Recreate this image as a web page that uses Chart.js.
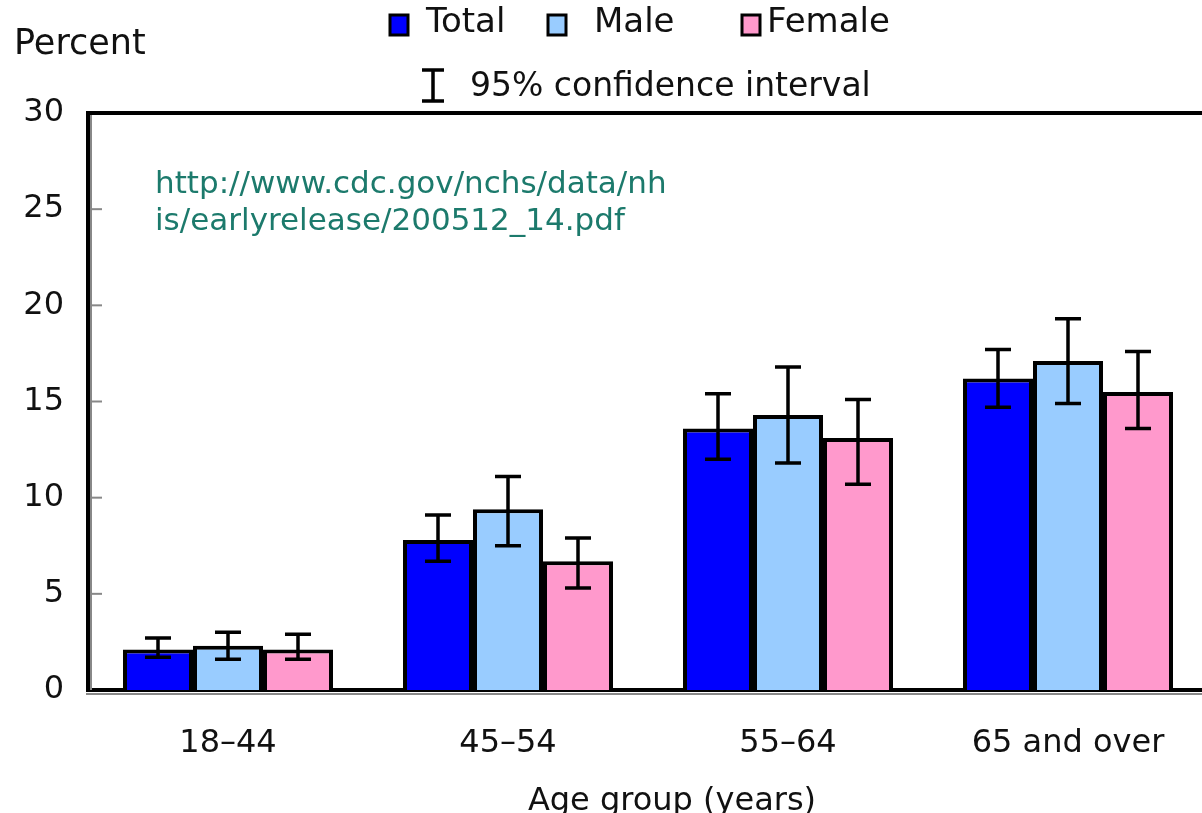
<!DOCTYPE html>
<html>
<head>
<meta charset="utf-8">
<script src="https://cdn.jsdelivr.net/npm/chart.js@4.4.0/dist/chart.umd.min.js"></script>
<style>
  html, body { margin: 0; padding: 0; overflow: hidden; background: #fff; }
  #wrap { width: 1216px; height: 813px; }
</style>
</head>
<body>
<div id="wrap"><canvas id="chart" width="1216" height="813"></canvas></div>
<script>
const ageGroups = ['18\u201344', '45\u201354', '55\u201364', '65 and over'];

const totalVals = [2.1, 7.8, 13.6, 16.2];
const maleVals = [2.3, 9.4, 14.3, 17.1];
const femaleVals = [2.1, 6.7, 13.1, 15.5];

// 95% confidence interval bounds
const totalLow = [1.7, 6.7, 12.0, 14.7];
const totalHigh = [2.7, 9.1, 15.4, 17.7];
const maleLow = [1.6, 7.5, 11.8, 14.9];
const maleHigh = [3.0, 11.1, 16.8, 19.3];
const femaleLow = [1.6, 5.3, 10.7, 13.6];
const femaleHigh = [2.9, 7.9, 15.1, 17.6];

const yTicks = [0, 5, 10, 15, 20, 25, 30];

const FONT = 'DejaVu Sans';

// error bars + frame + extra text
const extras = {
  id: 'extras',
  afterDatasetsDraw(chart) {
    const ctx = chart.ctx;
    const y = chart.scales.y;
    const area = chart.chartArea;
    ctx.save();
    chart.data.datasets.forEach((ds, i) => {
      chart.getDatasetMeta(i).data.forEach((bar, j) => {
        const hi = y.getPixelForValue(ds.ciHigh[j]);
        const lo = y.getPixelForValue(ds.ciLow[j]);
        ctx.strokeStyle = '#000';
        ctx.lineWidth = 3.5;
        ctx.beginPath();
        ctx.moveTo(bar.x, hi);
        ctx.lineTo(bar.x, lo);
        ctx.moveTo(bar.x - 13, hi);
        ctx.lineTo(bar.x + 13, hi);
        ctx.moveTo(bar.x - 13, lo);
        ctx.lineTo(bar.x + 13, lo);
        ctx.stroke();
      });
    });

    // top frame line
    ctx.strokeStyle = '#000';
    ctx.lineWidth = 4;
    ctx.beginPath();
    ctx.moveTo(area.left - 2, area.top);
    ctx.lineTo(area.right + 10, area.top);
    ctx.stroke();

    // grey shadow lines next to the axes
    ctx.strokeStyle = '#888';
    ctx.lineWidth = 2;
    ctx.beginPath();
    ctx.moveTo(area.left + 3, area.top + 2);
    ctx.lineTo(area.left + 3, area.bottom);
    ctx.moveTo(area.left - 2, area.bottom + 4);
    ctx.lineTo(area.right + 10, area.bottom + 4);
    ctx.stroke();

    // inward tick marks
    ctx.lineWidth = 2;
    yTicks.slice(1, -1).forEach(v => {
      const py = y.getPixelForValue(v);
      ctx.beginPath();
      ctx.moveTo(area.left + 2, py);
      ctx.lineTo(area.left + 14, py);
      ctx.stroke();
    });
    ctx.restore();
  },
  afterDraw(chart) {
    const ctx = chart.ctx;
    ctx.save();
    ctx.textBaseline = 'middle';
    ctx.textAlign = 'left';
    ctx.fillStyle = '#111';

    // legend
    ctx.font = '34px "' + FONT + '"';
    const legendX = [390, 548, 742];
    chart.data.datasets.forEach((ds, i) => {
      const x = legendX[i];
      ctx.fillStyle = ds.backgroundColor;
      ctx.fillRect(x, 15, 18, 20);
      ctx.strokeStyle = '#000';
      ctx.lineWidth = 3;
      ctx.strokeRect(x, 15, 18, 20);
      ctx.fillStyle = '#111';
      ctx.fillText(ds.label, x + (i === 0 ? 36 : i === 1 ? 46 : 25), 23);
    });

    // confidence interval key
    ctx.strokeStyle = '#000';
    ctx.lineWidth = 3.5;
    ctx.beginPath();
    ctx.moveTo(433, 70); ctx.lineTo(433, 101);
    ctx.moveTo(422, 70); ctx.lineTo(444, 70);
    ctx.moveTo(422, 101); ctx.lineTo(444, 101);
    ctx.stroke();
    ctx.font = '33px "' + FONT + '"';
    ctx.fillText('95% confidence interval', 470, 87);

    // y axis caption
    ctx.font = '35px "' + FONT + '"';
    ctx.fillText('Percent', 14, 45);

    // source url
    ctx.font = '31px "' + FONT + '"';
    ctx.fillStyle = '#1c7a6c';
    ctx.fillText('http://www.cdc.gov/nchs/data/nh', 155, 185);
    ctx.fillText('is/earlyrelease/200512_14.pdf', 155, 222);

    // x axis caption
    ctx.font = '32px "' + FONT + '"';
    ctx.fillStyle = '#111';
    ctx.textAlign = 'center';
    ctx.fillText('Age group (years)', 672, 802);
    ctx.restore();
  }
};

new Chart(document.getElementById('chart'), {
  type: 'bar',
  data: {
    labels: ageGroups,
    datasets: [
      { label: 'Total', data: totalVals, ciLow: totalLow, ciHigh: totalHigh, backgroundColor: '#0000ff' },
      { label: 'Male', data: maleVals, ciLow: maleLow, ciHigh: maleHigh, backgroundColor: '#99ccff' },
      { label: 'Female', data: femaleVals, ciLow: femaleLow, ciHigh: femaleHigh, backgroundColor: '#ff99cc' }
    ].map(ds => Object.assign(ds, {
      borderColor: '#000',
      borderWidth: 4,
      categoryPercentage: 0.75,
      barPercentage: 1.0
    }))
  },
  options: {
    responsive: false,
    animation: false,
    layout: { padding: { top: 113, right: 8, left: 0, bottom: 0 } },
    plugins: {
      legend: { display: false },
      title: { display: false },
      tooltip: { enabled: false }
    },
    scales: {
      x: {
        grid: { display: false, drawTicks: false },
        border: { color: '#000', width: 4 },
        ticks: { color: '#111', padding: 34, font: { family: FONT, size: 32 } },
        afterFit: s => { s.height = 123; }
      },
      y: {
        min: 0,
        max: 30,
        afterBuildTicks: s => { s.ticks = yTicks.map(v => ({ value: v })); },
        grid: { display: false, drawTicks: false },
        border: { color: '#000', width: 4 },
        ticks: { color: '#111', padding: 24, font: { family: FONT, size: 32 } },
        afterFit: s => { s.width = 88; }
      }
    }
  },
  plugins: [extras]
});
</script>
</body>
</html>
